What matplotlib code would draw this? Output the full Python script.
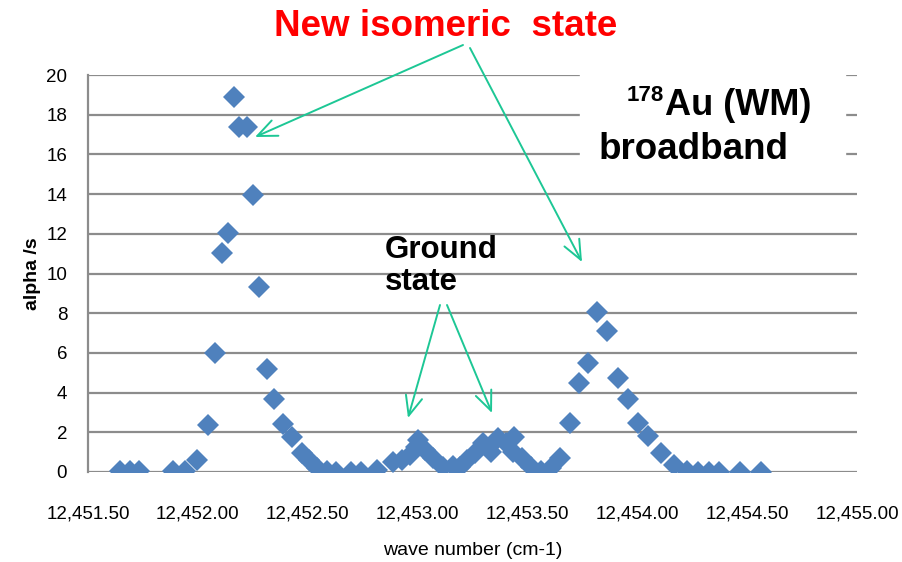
import numpy as np
import matplotlib
matplotlib.use("Agg")
import matplotlib.pyplot as plt
from matplotlib.ticker import FuncFormatter, MultipleLocator

plt.rcParams['font.family'] = ['Liberation Sans Narrow', 'Liberation Sans', 'DejaVu Sans']

# wave number (cm-1) and alpha rate (/s)
wave = [12451.646, 12451.691, 12451.733, 12451.886, 12451.942, 12451.995,
        12452.048, 12452.078, 12452.110, 12452.136, 12452.164, 12452.187,
        12452.222, 12452.250, 12452.280, 12452.313, 12452.348, 12452.386,
        12452.427, 12452.472, 12452.507, 12452.544, 12452.587, 12452.629,
        12452.697, 12452.741, 12452.814, 12452.887, 12452.928, 12452.966,
        12452.993, 12453.003, 12453.034, 12453.072, 12453.117, 12453.160,
        12453.193, 12453.224, 12453.262, 12453.297, 12453.334, 12453.364,
        12453.403, 12453.440, 12453.434, 12453.476, 12453.514, 12453.563,
        12453.606, 12453.648, 12453.694, 12453.735, 12453.776, 12453.818,
        12453.860, 12453.912, 12453.958, 12454.005, 12454.051, 12454.110,
        12454.168, 12454.224, 12454.277, 12454.327, 12454.370, 12454.467,
        12454.563]
alpha = [0.05, 0.05, 0.05, 0.05, 0.05, 0.6,
         2.37, 6.0, 11.05, 12.05, 18.9, 17.36,
         17.36, 13.97, 9.34, 5.2, 3.7, 2.4,
         1.74, 0.98, 0.6, 0.2, 0.07, 0.02,
         0.02, 0.02, 0.1, 0.52, 0.6, 0.86,
         1.27, 1.6, 1.1, 0.69, 0.24, 0.3,
         0.24, 0.6, 0.94, 1.45, 1.03, 1.7,
         1.45, 1.75, 1.03, 0.7, 0.24, 0.07,
         0.2, 0.7, 2.45, 4.5, 5.48, 8.08,
         7.12, 4.75, 3.66, 2.45, 1.83, 0.94,
         0.35, 0.05, 0.02, 0.02, 0.02, 0.02,
         0.02]

W, H = 902, 562
fig = plt.figure(figsize=(W / 100, H / 100), dpi=100)
ax = fig.add_axes([88 / W, 1 - 472 / H, (857 - 88) / W, (472 - 75) / H])

ax.plot(wave, alpha, 'D', color='#4F81BD', markersize=11, markeredgewidth=0, zorder=3)

ax.set_xlim(12451.5, 12455.0)
ax.set_ylim(0, 20)
ax.xaxis.set_major_locator(MultipleLocator(0.5))
ax.yaxis.set_major_locator(MultipleLocator(2))
ax.xaxis.set_major_formatter(FuncFormatter(lambda v, p: '{:,.2f}'.format(v)))
ax.grid(axis='y', color='#8c8c8c', linewidth=1.6)
ax.set_axisbelow(True)
for s in ['top', 'right', 'bottom']:
    ax.spines[s].set_visible(False)
ax.spines['left'].set_color('#8c8c8c')
ax.spines['left'].set_linewidth(1.6)
ax.tick_params(axis='y', length=0, pad=15, labelsize=13.5)
ax.tick_params(axis='x', length=0, pad=24, labelsize=13.5)
ax.set_xlabel('wave number (cm-1)', fontsize=14, labelpad=14)
ax.set_ylabel('alpha /s', fontsize=14, fontweight='bold', family='Liberation Sans', labelpad=4)

# labels
fig.text(446 / W, 1 - 27 / H, 'New isomeric  state', color='red', fontsize=26.5,
         fontweight='bold', family='Liberation Sans', ha='center', va='center')
fig.patches.append(plt.Rectangle((580 / W, 1 - 172 / H), 265 / W, 100 / H,
                                 transform=fig.transFigure, color='white', zorder=2))
fig.text(627 / W, 1 - 95 / H, '178', fontsize=16, fontweight='bold',
         family='Liberation Sans', ha='left', va='center', zorder=5)
fig.text(665 / W, 1 - 106 / H, 'Au (WM)', fontsize=26, fontweight='bold',
         family='Liberation Sans', ha='left', va='center', zorder=5)
fig.text(599 / W, 1 - 150 / H, 'broadband', fontsize=26.5, fontweight='bold',
         family='Liberation Sans', ha='left', va='center', zorder=5)
fig.text(385 / W, 1 - 266 / H, 'Ground\nstate', fontsize=22.5, fontweight='bold',
         family='Liberation Sans', ha='left', va='center', linespacing=1.12, zorder=5)

# arrows
arrow_col = '#1DC795'
arrows = [((463, 45), (255, 137)), ((470, 48), (582, 262)),
          ((440, 305), (408, 418)), ((447, 305), (492, 413))]
for (x0, y0), (x1, y1) in arrows:
    ax.annotate('', xy=(x1, H - y1), xytext=(x0, H - y0),
                xycoords='figure pixels', textcoords='figure pixels',
                arrowprops=dict(arrowstyle='->,head_length=1.4,head_width=0.6',
                                color=arrow_col, lw=1.4, shrinkA=0, shrinkB=0),
                annotation_clip=False, zorder=6)

fig.savefig('out.png', dpi=100)
